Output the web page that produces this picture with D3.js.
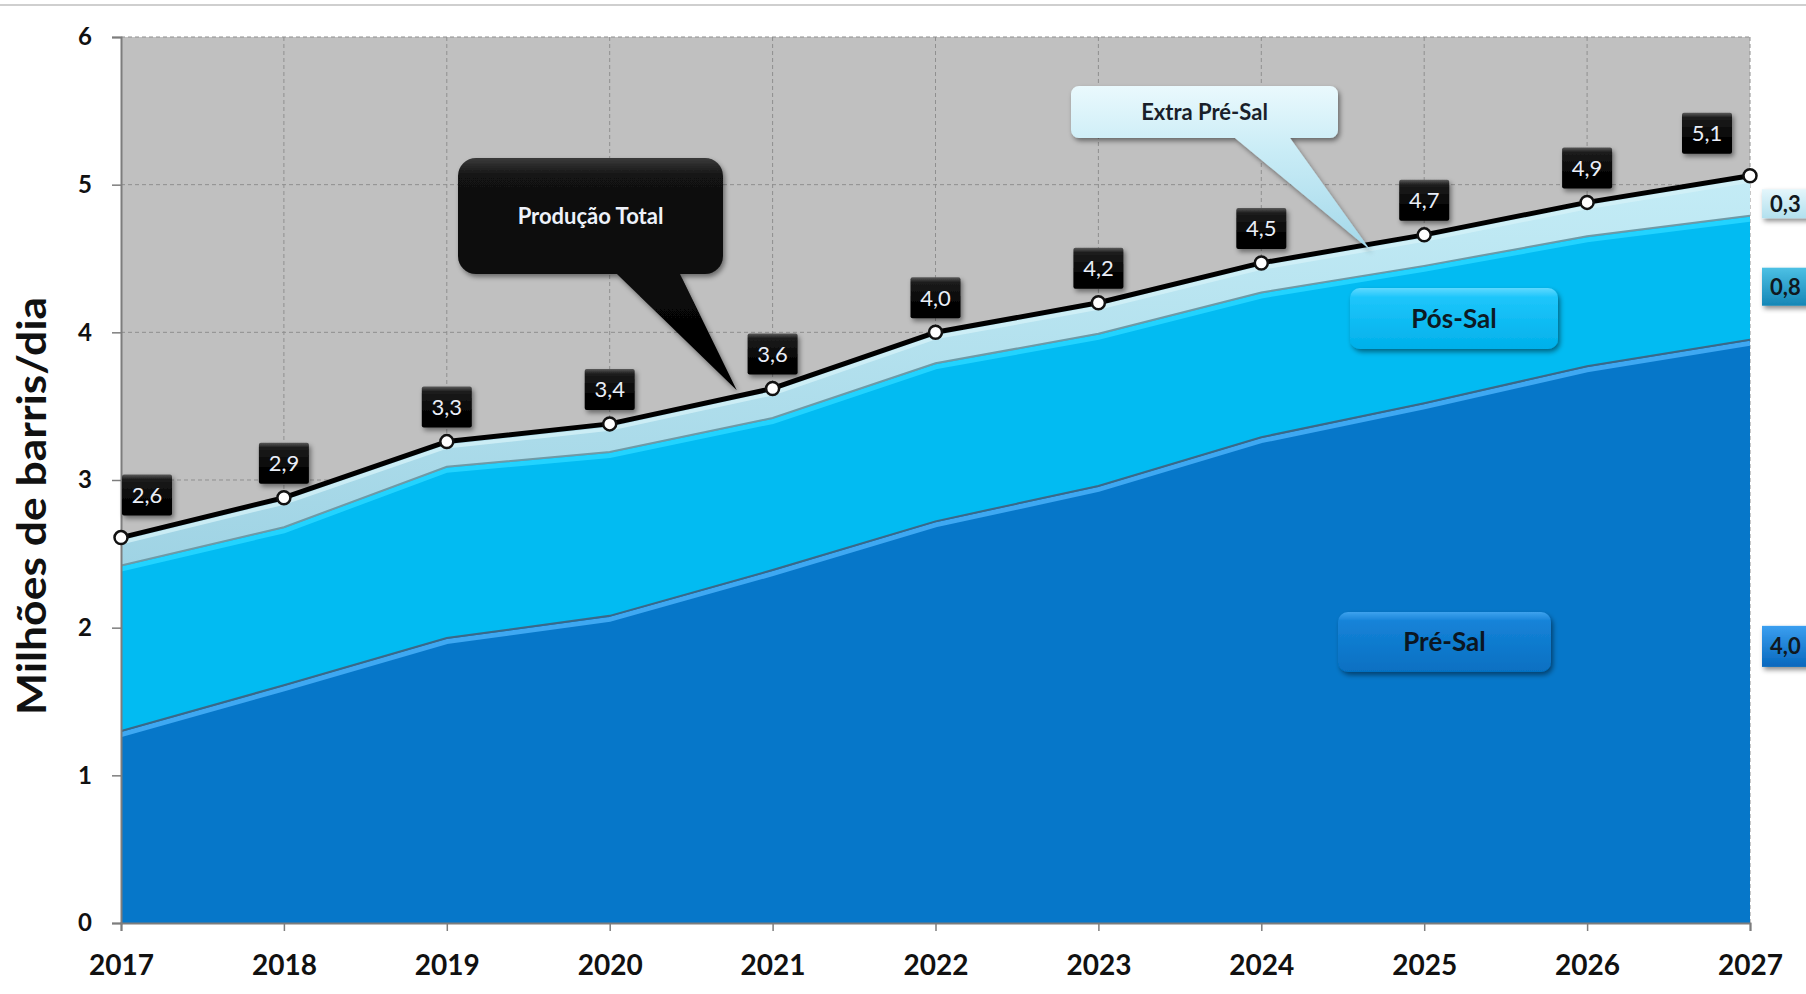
<!DOCTYPE html>
<html><head><meta charset="utf-8">
<script src="https://cdn.jsdelivr.net/npm/d3@7/dist/d3.min.js"></script>
<style>
html,body{margin:0;padding:0;background:#fff;}
svg{display:block;font-family:Lato,"Open Sans",sans-serif;}
</style></head><body>
<svg id="chart" width="1806" height="994"></svg>
<script>
// ---------- data ----------
const years = [2017, 2018, 2019, 2020, 2021, 2022, 2023, 2024, 2025, 2026, 2027];
const preSal = [1.30, 1.61, 1.93, 2.08, 2.39, 2.72, 2.96, 3.29, 3.52, 3.77, 3.95];
const posSal = [1.12, 1.07, 1.16, 1.11, 1.03, 1.07, 1.03, 0.98, 0.93, 0.88, 0.84];
const extraPreSal = [0.19, 0.20, 0.17, 0.19, 0.20, 0.21, 0.21, 0.20, 0.21, 0.23, 0.27];
const yTicks = [0, 1, 2, 3, 4, 5, 6];
const seriesKeys = ["pre", "pos", "extra"];
const seriesNames = ["Pré-Sal", "Pós-Sal", "Extra Pré-Sal"];
const totalName = "Produção Total";
const yAxisTitle = "Milhões de barris/dia";

// ---------- layout ----------
const svg = d3.select("#chart");
const plot = {left: 121, right: 1750, top: 37, bottom: 923};
const x = d3.scaleLinear().domain([years[0], years[years.length - 1]]).range([plot.left, plot.right]);
const y = d3.scaleLinear().domain([0, 6]).range([plot.bottom, plot.top]);
const fmt = v => d3.format(".1f")(v).replace(".", ",");

const data = years.map((yr, i) => ({year: yr, pre: preSal[i], pos: posSal[i], extra: extraPreSal[i]}));
const stacked = d3.stack().keys(seriesKeys)(data);
const totals = data.map(d => ({year: d.year, total: d.pre + d.pos + d.extra}));

// ---------- defs ----------
const defs = svg.append("defs");
function vGrad(id, stops) {
  const g = defs.append("linearGradient").attr("id", id).attr("x1", 0).attr("y1", 0).attr("x2", 0).attr("y2", 1);
  stops.forEach(s => g.append("stop").attr("offset", s[0]).attr("stop-color", s[1]));
}
vGrad("gBlack", [["0%", "#5a5a5a"], ["12%", "#1c1c1c"], ["60%", "#060606"], ["100%", "#000"]]);
vGrad("gCallBlack", [["0%", "#3a3a3a"], ["8%", "#121212"], ["100%", "#000"]]);
vGrad("gExtraBox", [["0%", "#eaf9fd"], ["40%", "#c9ecf6"], ["100%", "#a3d8ea"]]);
vGrad("gPosBox", [["0%", "#5fd9ff"], ["15%", "#1ec6fb"], ["100%", "#00b0ea"]]);
vGrad("gPreBox", [["0%", "#3ea2ee"], ["15%", "#1683d8"], ["100%", "#0670c2"]]);
vGrad("gLbl03", [["0%", "#e4f6fb"], ["100%", "#b2e0ee"]]);
vGrad("gLbl08", [["0%", "#4cc0e4"], ["100%", "#1586b6"]]);
vGrad("gLbl40", [["0%", "#3b9ff0"], ["100%", "#0667bd"]]);
vGrad("gExtraBand", [["0%", "#c4ecf6"], ["100%", "#9fd3e4"]]);
const f = defs.append("filter").attr("id", "shadow").attr("x", "-20%").attr("y", "-20%").attr("width", "140%").attr("height", "150%");
f.append("feDropShadow").attr("dx", 2).attr("dy", 3).attr("stdDeviation", 2.5).attr("flood-color", "#000").attr("flood-opacity", 0.45);
defs.append("clipPath").attr("id", "plotClip").append("rect")
  .attr("x", plot.left).attr("y", plot.top).attr("width", plot.right - plot.left).attr("height", plot.bottom - plot.top);

// top rule
svg.append("rect").attr("x", 0).attr("y", 4).attr("width", 1806).attr("height", 2).attr("fill", "#cfcfcf");

// plot background
svg.append("rect").attr("x", plot.left).attr("y", plot.top)
  .attr("width", plot.right - plot.left).attr("height", plot.bottom - plot.top).attr("fill", "#c0c0c0");

// grid
const grid = svg.append("g").attr("stroke", "#8f8f8f").attr("stroke-width", 1).attr("stroke-dasharray", "4,3");
grid.selectAll("line.h").data(yTicks.filter(t => t > 0)).join("line")
  .attr("x1", plot.left).attr("x2", plot.right).attr("y1", d => y(d)).attr("y2", d => y(d));
grid.selectAll("line.v").data(years.slice(1)).join("line")
  .attr("x1", d => x(d)).attr("x2", d => x(d)).attr("y1", plot.top).attr("y2", plot.bottom);

// areas
const area = d3.area().x(d => x(d.data.year)).y0(d => y(d[0])).y1(d => y(d[1]));
const fills = {pre: "#0677c9", pos: "#02bbf2", extra: "url(#gExtraBand)"};
const ag = svg.append("g").attr("clip-path", "url(#plotClip)");
ag.selectAll("path.area").data(stacked).join("path").attr("class", "area")
  .attr("d", area).attr("fill", d => fills[d.key]);

// bevel edges
const edge = (layer, off) => d3.line().x(d => x(d.data.year)).y(d => y(d[1]) + off)(layer);
const preL = stacked[0], posL = stacked[1], extL = stacked[2];
ag.append("path").attr("d", edge(preL, 3.5)).attr("fill", "none").attr("stroke", "#3ea8f2").attr("stroke-width", 5);
ag.append("path").attr("d", edge(preL, 0)).attr("fill", "none").attr("stroke", "#3b6886").attr("stroke-width", 2);
ag.append("path").attr("d", edge(posL, 3.5)).attr("fill", "none").attr("stroke", "#22d3ff").attr("stroke-width", 5);
ag.append("path").attr("d", edge(posL, 0)).attr("fill", "none").attr("stroke", "#6f9aa6").attr("stroke-width", 2);
ag.append("path").attr("d", edge(extL, 5)).attr("fill", "none").attr("stroke", "#d3f1f8").attr("stroke-width", 4).attr("opacity", 0.8);

// axes
const axL = svg.append("g").attr("transform", `translate(${plot.left},0)`)
  .call(d3.axisLeft(y).tickValues(yTicks).tickSize(9).tickPadding(20).tickFormat(d3.format("d")));
const axB = svg.append("g").attr("transform", `translate(0,${plot.bottom})`)
  .call(d3.axisBottom(x).tickValues(years).tickSize(8).tickPadding(24).tickFormat(d3.format("d")));
[axL, axB].forEach(a => {
  a.select(".domain").attr("stroke", "#7d7d7d").attr("stroke-width", 2);
  a.selectAll(".tick line").attr("stroke", "#7d7d7d").attr("stroke-width", 1.5);
  a.selectAll("text").attr("fill", "#111").attr("font-family", "Lato").attr("font-weight", 700);
});
axL.selectAll("text").attr("font-size", 24);
axB.selectAll("text").attr("font-size", 28);

// y title
svg.append("text").attr("transform", "translate(46,506) rotate(-90)")
  .attr("text-anchor", "middle").attr("font-size", 40).attr("font-weight", 700).attr("fill", "#111")
  .attr("textLength", 418).attr("lengthAdjust", "spacingAndGlyphs").text(yAxisTitle);

// total line
svg.append("path").datum(totals)
  .attr("d", d3.line().x(d => x(d.year)).y(d => y(d.total)))
  .attr("fill", "none").attr("stroke", "#000").attr("stroke-width", 5).attr("stroke-linejoin", "round");

// callouts
function callout(box, r, base, tip, fill, txt, txtColor, fs) {
  const g = svg.append("g").attr("filter", "url(#shadow)");
  const p = d3.path();
  const {x0, y0, x1, y1} = box;
  p.moveTo(x0 + r, y0); p.lineTo(x1 - r, y0); p.arcTo(x1, y0, x1, y0 + r, r);
  p.lineTo(x1, y1 - r); p.arcTo(x1, y1, x1 - r, y1, r);
  p.lineTo(base[1], y1); p.lineTo(tip[0], tip[1]); p.lineTo(base[0], y1);
  p.lineTo(x0 + r, y1); p.arcTo(x0, y1, x0, y1 - r, r);
  p.lineTo(x0, y0 + r); p.arcTo(x0, y0, x0 + r, y0, r); p.closePath();
  g.append("path").attr("d", p.toString()).attr("fill", fill);
  svg.append("text").attr("x", (x0 + x1) / 2).attr("y", (y0 + y1) / 2).attr("dy", "0.36em")
    .attr("text-anchor", "middle").attr("font-size", fs).attr("font-weight", 700).attr("fill", txtColor).text(txt);
}
function interpTotal(yr) {
  const i = Math.floor(yr - years[0]); const t = yr - years[0] - i;
  return totals[i].total * (1 - t) + totals[i + 1].total * t;
}
callout({x0: 458, y0: 158, x1: 723, y1: 274}, 18, [617, 680],
  [x(2020.78), y(interpTotal(2020.78)) - 6], "url(#gCallBlack)", totalName, "#eef2fa", 22);
callout({x0: 1071, y0: 86, x1: 1338, y1: 138}, 8, [1235, 1290],
  [x(2024.67), y(interpTotal(2024.67)) + 6], "url(#gExtraBox)", seriesNames[2], "#1a1f2a", 22);

// series label boxes
function labelBox(x0, y0, w, h, r, fill, txt, fs, color) {
  svg.append("rect").attr("x", x0).attr("y", y0).attr("width", w).attr("height", h).attr("rx", r)
    .attr("fill", fill).attr("filter", "url(#shadow)");
  svg.append("text").attr("x", x0 + w / 2).attr("y", y0 + h / 2).attr("dy", "0.36em")
    .attr("text-anchor", "middle").attr("font-size", fs).attr("font-weight", 700).attr("fill", color).text(txt);
}
labelBox(1350, 288, 208, 61, 10, "url(#gPosBox)", seriesNames[1], 26, "#0d1a24");
labelBox(1338, 612, 213, 60, 10, "url(#gPreBox)", seriesNames[0], 26, "#0b1622");

// points
svg.selectAll("circle.pt").data(totals).join("circle").attr("class", "pt")
  .attr("cx", d => x(d.year)).attr("cy", d => y(d.total)).attr("r", 6.5)
  .attr("fill", "#fff").attr("stroke", "#111").attr("stroke-width", 2.5);

// total value labels
const bw = 50, bh = 41;
const lab = svg.selectAll("g.vl").data(totals).join("g").attr("class", "vl")
  .attr("transform", (d, i) => {
    const dx = i === 0 ? 26 : (i === totals.length - 1 ? -43 : 0);
    const gap = (i === 0 || i === totals.length - 1) ? 22 : 14;
    return `translate(${x(d.year) + dx - bw / 2},${y(d.total) - gap - bh})`;
  });
lab.append("rect").attr("width", bw).attr("height", bh).attr("rx", 2).attr("fill", "url(#gBlack)").attr("filter", "url(#shadow)");
lab.append("text").attr("x", bw / 2).attr("y", bh / 2).attr("dy", "0.36em").attr("text-anchor", "middle")
  .attr("font-size", 22).attr("fill", "#e9eef8").text(d => fmt(d.total));

// end labels on the right
const last = data.length - 1;
const endFills = {pre: "url(#gLbl40)", pos: "url(#gLbl08)", extra: "url(#gLbl03)"};
const endH = {pre: 41, pos: 38, extra: 29};
const endOff = {pre: 15, pos: 9, extra: 8};
stacked.forEach(layer => {
  const d = layer[last];
  const cy = y((d[0] + d[1]) / 2) + endOff[layer.key];
  const h = endH[layer.key];
  svg.append("rect").attr("x", 1762).attr("y", cy - h / 2).attr("width", 60).attr("height", h)
    .attr("fill", endFills[layer.key]).attr("filter", "url(#shadow)");
  svg.append("text").attr("x", 1770).attr("y", cy).attr("dy", "0.36em").attr("font-size", 22).attr("font-weight", 700)
    .attr("fill", "#101820").text(fmt(d[1] - d[0]));
});
</script>
</body></html>
